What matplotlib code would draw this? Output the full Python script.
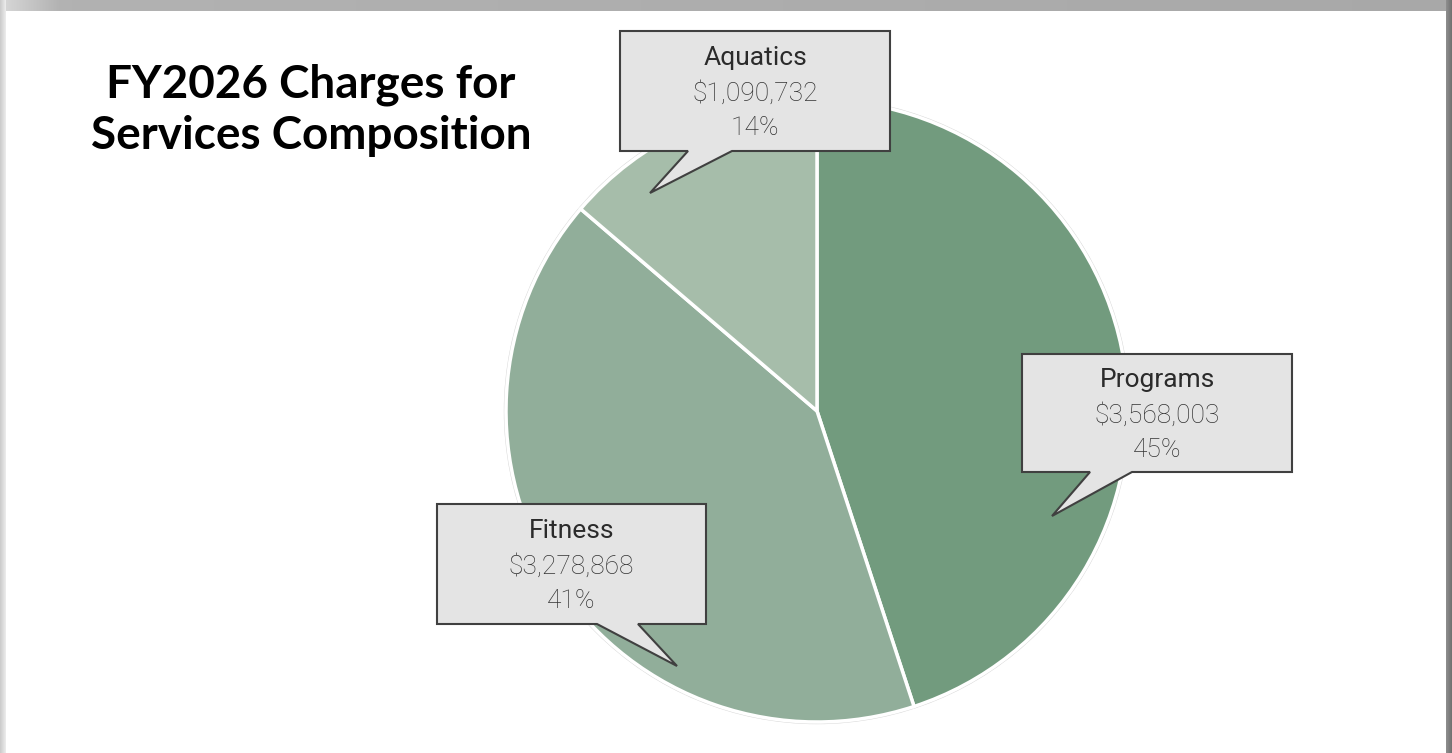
import numpy as np
import matplotlib
matplotlib.use("Agg")
import matplotlib.pyplot as plt
from matplotlib.patches import Polygon

categories = ["Programs", "Fitness", "Aquatics"]
values = [3568003, 3278868, 1090732]
colors = ["#729b7e", "#91ae9a", "#a6bdaa"]
title = "FY2026 Charges for\nServices Composition"

W, H = 1452, 753
fig = plt.figure(figsize=(W / 100, H / 100), dpi=100)

# background frame
bg = np.ones((H, W, 3))
top = np.linspace(0.70, 0.66, W)
bg[:11, :, :] = top[None, :, None]
bg[:11, :60, :] = np.linspace(0.85, 0.70, 60)[None, :, None]
bg[:, :6, :] = np.linspace(0.80, 0.92, 6)[None, :, None]
bg[:, 1446:, :] = np.linspace(0.55, 0.45, 6)[None, :, None]
bgax = fig.add_axes([0, 0, 1, 1], zorder=-5)
bgax.imshow(bg, aspect="auto", interpolation="nearest", extent=(0, W, 0, H))
bgax.axis("off")

ax = fig.add_axes([0, 0, 1, 1], zorder=1)
ax.patch.set_alpha(0)

cx, cy, r = 817, H - 411, 311
wedges, _ = ax.pie(values, colors=colors, startangle=90, counterclock=False,
                   center=(cx, cy), radius=r, frame=True,
                   wedgeprops=dict(edgecolor="white", linewidth=2.5))
ax.set_xlim(0, W)
ax.set_ylim(0, H)
ax.set_aspect("auto")
ax.axis("off")

# faint shadow ring
ax.add_patch(plt.Circle((cx, cy), r + 1.5, fill=False, edgecolor="#d8d8d8", lw=1, zorder=0.5))

total = sum(values)
# callout layouts in pixel coords: box (l, t, r, b), pointer base (x1, x2), tip (x, y)
callouts = {
    "Aquatics": ((620, 31, 890, 151), (688, 732), (650, 193)),
    "Programs": ((1022, 354, 1292, 472), (1090, 1132), (1052, 516)),
    "Fitness": ((437, 504, 706, 624), (597, 638), (677, 666)),
}

lab_font = ["Roboto", "DejaVu Sans"]
for cat, val in zip(categories, values):
    (l, t, rr, b), (p1, p2), (tx, ty) = callouts[cat]
    pts = [(l, t), (rr, t), (rr, b), (p2, b), (tx, ty), (p1, b), (l, b)]
    pts = [(x, H - y) for x, y in pts]
    ax.add_patch(Polygon(pts, closed=True, facecolor="#e4e4e4", edgecolor="#404040",
                         lw=1.5, zorder=5, joinstyle="miter"))
    xm = (l + rr) / 2
    ym = H - (t + b) / 2 - 2
    ax.text(xm, ym + 35, cat, ha="center", va="center", fontsize=19,
            color="#2b2b2b", family=lab_font, zorder=6)
    ax.text(xm, ym, f"${val:,.0f}", ha="center", va="center", fontsize=19,
            color="#333333", family=lab_font, fontweight="light", zorder=6)
    ax.text(xm, ym - 35, f"{val / total * 100:.0f}%", ha="center", va="center", fontsize=19,
            color="#333333", family=lab_font, fontweight="light", zorder=6)

ax.text(311, H - 110, title, ha="center", va="center", fontsize=33,
        fontweight="bold", color="black", family=["Lato", "DejaVu Sans"],
        linespacing=1.25, zorder=6)

fig.savefig("out.png", dpi=100)
